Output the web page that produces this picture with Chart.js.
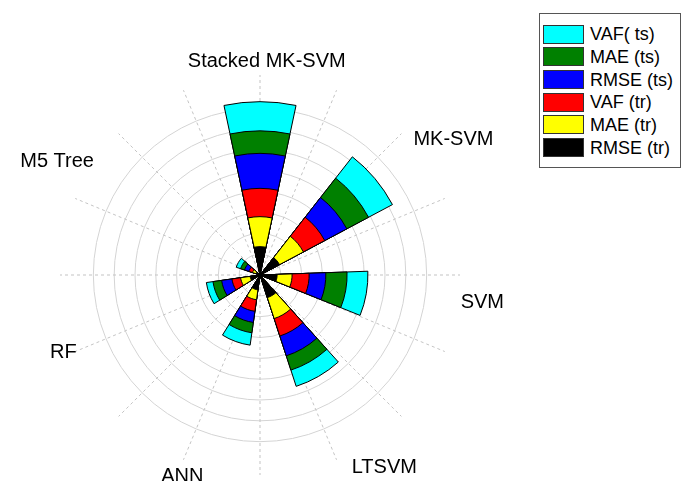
<!DOCTYPE html>
<html>
<head>
<meta charset="utf-8">
<script src="https://cdn.jsdelivr.net/npm/chart.js@4.4.1/dist/chart.umd.min.js"></script>
<style>
    html, body { margin: 0; padding: 0; background: #fff; }
    #wrap { position: relative; width: 687px; height: 481px; overflow: hidden; }
    #legend {
        position: absolute; left: 539px; top: 13px; width: 137px; height: 144px;
        border: 1px solid #555; background: #fff; padding: 9px 0 0 3px; box-sizing: content-box;
        font-family: 'Liberation Sans', Arial, sans-serif; font-size: 18px; color: #000;
    }
    #legend .row { display: flex; align-items: center; height: 22.67px; }
    #legend .sw { width: 41px; height: 19px; border: 1px solid #333; box-sizing: border-box; }
    #legend .txt { margin-left: 6px; line-height: 1; white-space: pre; }
</style>
</head>
<body>
<div id="wrap">
    <canvas id="rose" width="687" height="481"></canvas>
    <div id="legend"></div>
</div>
<script>
// カテゴリ（12時の位置から時計回り）
const categories = ['Stacked MK-SVM', 'MK-SVM', 'SVM', 'LTSVM', 'ANN', 'RF', 'M5 Tree'];

// 各指標の値（内側から外側へ積み上げ）
const rmseTr = [6.8, 5.3, 4.1, 5.7, 3.6, 2.4, 1.0];
const maeTr  = [7.2, 6.5, 3.6, 5.3, 2.4, 2.3, 0.9];
const vafTr  = [6.8, 5.8, 4.1, 4.4, 2.8, 2.1, 0.9];
const rmseTs = [8.4, 6.0, 4.0, 5.0, 2.7, 2.5, 1.1];
const maeTs  = [5.4, 5.9, 5.1, 3.6, 2.5, 2.1, 1.0];
const vafTs  = [7.0, 6.5, 5.0, 4.1, 3.0, 1.6, 1.1];

// 凡例の順番（外側 → 内側）
const seriesNames = ['VAF( ts)', 'MAE (ts)', 'RMSE (ts)', 'VAF (tr)', 'MAE (tr)', 'RMSE (tr)'];
const seriesValues = [vafTs, maeTs, rmseTs, vafTr, maeTr, rmseTr];
const seriesColors = ['#00ffff', '#008000', '#0000ff', '#ff0000', '#ffff00', '#000000'];

// 目盛り
const radialMax = 48;
const radialStep = 5;

// 扇の配置
const wedgeStep = 50;
const wedgeWidth = 24;
const spokeCount = 16;

// ラベル位置（角度, 外周からの距離）
const labelAngle = [1.8, 48.5, 97.7, 154.5, 195.7, 247.2, 304.4];
const labelGap = [13.8, 4.8, 2.5, 13, 9.3, -1.2, 1.2];

// 12時から始まるので、Stacked MK-SVM は最後に回して 360°をまたがせる
const wedgeOrder = [1, 2, 3, 4, 5, 6, 0];
const slotAngles = [];
const slotCat = [];
let cursor = 0;
wedgeOrder.forEach(k => {
    const center = k === 0 ? 360 : k * wedgeStep;
    slotAngles.push(center - wedgeWidth / 2 - cursor);
    slotCat.push(-1);
    slotAngles.push(wedgeWidth);
    slotCat.push(k);
    cursor = center + wedgeWidth / 2;
});

// 積み上げ（外側の系列ほど大きい累積値）
const datasets = seriesNames.map((name, i) => {
    const cum = categories.map((_, k) => {
        let sum = 0;
        for (let j = seriesValues.length - 1; j >= i; j--) sum += seriesValues[j][k];
        return sum;
    });
    return {
        label: name,
        data: slotCat.map(k => k < 0 ? 0 : cum[k]),
        backgroundColor: seriesColors[i],
        borderColor: '#000',
        borderWidth: slotCat.map(k => k < 0 ? 0 : 1),
        angle: slotAngles,
        order: seriesNames.length - 1 - i
    };
});

// カテゴリ名を外周に描く
const categoryLabels = {
    id: 'categoryLabels',
    afterDraw(chart) {
        const s = chart.scales.r;
        const ctx = chart.ctx;
        ctx.save();
        ctx.font = "20px 'Liberation Sans', Arial, sans-serif";
        ctx.fillStyle = '#000';
        ctx.textBaseline = 'middle';
        categories.forEach((name, i) => {
            const a = labelAngle[i] * Math.PI / 180;
            const r = s.drawingArea + labelGap[i];
            const x = s.xCenter + r * Math.sin(a);
            const y = s.yCenter - r * Math.cos(a);
            ctx.textAlign = labelAngle[i] < 5 ? 'center' : (labelAngle[i] < 180 ? 'left' : 'right');
            ctx.fillText(name, x, y);
        });
        ctx.restore();
    }
};

new Chart(document.getElementById('rose').getContext('2d'), {
    type: 'polarArea',
    data: {
        labels: slotCat.map(k => k < 0 ? '' : categories[k]),
        datasets: datasets
    },
    options: {
        responsive: false,
        animation: false,
        layout: { padding: { left: 60, top: 75, right: 227, bottom: 6 } },
        scales: {
            r: {
                min: 0,
                max: radialMax,
                startAngle: 0,
                labels: Array(spokeCount).fill(''),
                ticks: { display: false, stepSize: radialStep },
                grid: {
                    circular: true,
                    lineWidth: 1,
                    color: c => c.tick && c.tick.value > radialMax - radialStep ? 'rgba(0,0,0,0)' : '#d4d4d4'
                },
                angleLines: { display: true, color: '#c4c4c4', lineWidth: 1, borderDash: [3, 3] },
                pointLabels: { display: false }
            }
        },
        plugins: {
            legend: { display: false },
            tooltip: { enabled: false }
        }
    },
    plugins: [categoryLabels]
});

// 凡例
document.getElementById('legend').innerHTML = seriesNames.map((name, i) => `
    <div class="row">
        <span class="sw" style="background-color: ${seriesColors[i]}"></span>
        <span class="txt">${name}</span>
    </div>
`).join('');
</script>
</body>
</html>
